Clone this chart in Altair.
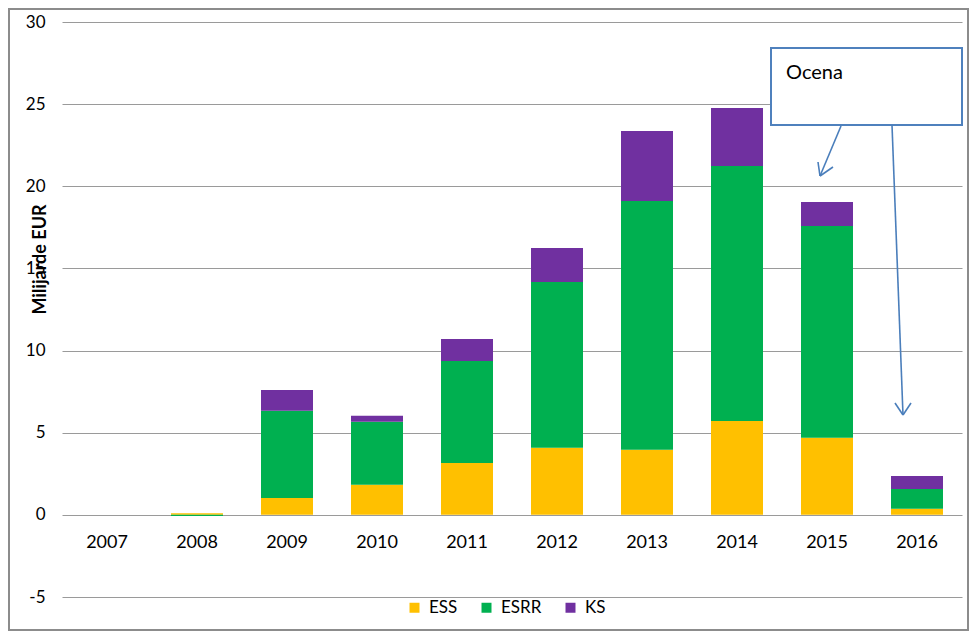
import altair as alt
import pandas as pd

years = ["2007", "2008", "2009", "2010", "2011", "2012", "2013", "2014", "2015", "2016"]
ess = [0.0, 0.10, 1.03, 1.83, 3.16, 4.08, 3.96, 5.72, 4.69, 0.37]
esrr = [0.0, -0.07, 5.30, 3.83, 6.21, 10.10, 15.14, 15.52, 12.90, 1.21]
ks = [0.0, 0.0, 1.27, 0.37, 1.34, 2.07, 4.27, 3.53, 1.46, 0.79]
series = ["ESS", "ESRR", "KS"]
colors = ["#FFC000", "#00B050", "#7030A0"]
y_ticks = [-5, 0, 5, 10, 15, 20, 25, 30]
annotation_text = "Ocena"
y_title = "Milijarde EUR"

FONT = "Lato"

rows = []
for i, y in enumerate(years):
    for k, (name, vals) in enumerate(zip(series, [ess, esrr, ks])):
        rows.append({"year": y, "series": name, "value": vals[i], "ord": k})
df = pd.DataFrame(rows)
lab_df = pd.DataFrame({"year": years, "zero": [0] * len(years)})

x_enc = alt.X("year:N", sort=years, axis=None,
              scale=alt.Scale(paddingInner=0.42, paddingOuter=0.21))

bars = alt.Chart(df).mark_bar(size=52).encode(
    x=x_enc,
    y=alt.Y("value:Q", stack="zero",
            scale=alt.Scale(domain=[-5, 30], nice=False, zero=False),
            axis=alt.Axis(values=y_ticks, grid=True, gridColor="#9a9a9a", gridWidth=1,
                          domain=False, ticks=False, labelPadding=17,
                          labelExpr="'' + datum.value",
                          labelFontSize=17, labelFont=FONT, labelColor="#000000",
                          title=y_title, titleFont=FONT, titleFontSize=18,
                          titleFontWeight="bold", titleColor="#000000",
                          titleAngle=270, titleX=-22, titleY=237,
                          titleAlign="center", titleBaseline="middle")),
    color=alt.Color("series:N", scale=alt.Scale(domain=series, range=colors),
                    legend=alt.Legend(title=None, orient="none", direction="horizontal",
                                      legendX=344, legendY=577, symbolType="square",
                                      symbolSize=100, symbolStrokeWidth=0,
                                      labelFont=FONT, labelFontSize=17,
                                      labelColor="#000000", labelOffset=6,
                                      columnPadding=20, padding=0)),
    order=alt.Order("ord:Q", sort="ascending"),
)

labels = alt.Chart(lab_df).mark_text(dy=28, fontSize=18, font=FONT, color="#000000").encode(
    x=x_enc,
    y=alt.Y("zero:Q"),
    text="year:N",
)

# callout box (annotation, pixel positions)
box_df = pd.DataFrame({"x": [709], "x2": [900], "y": [26], "y2": [103]})
box = alt.Chart(box_df).mark_rect(fill="white", stroke="#4f81bd", strokeWidth=2).encode(
    x=alt.X("x:Q", scale=None), x2="x2:Q",
    y=alt.Y("y:Q", scale=None), y2="y2:Q",
)
box_text = alt.Chart(pd.DataFrame({"x": [724], "y": [51], "t": [annotation_text]})).mark_text(
    align="left", baseline="middle", fontSize=20, font=FONT, color="#000000"
).encode(x=alt.X("x:Q", scale=None), y=alt.Y("y:Q", scale=None), text="t:N")

seg_df = pd.DataFrame({
    "x": [779, 758, 758, 830, 841, 841],
    "y": [104, 154, 154, 103, 393, 393],
    "x2": [758, 756, 771, 841, 833, 849],
    "y2": [154, 140, 145, 393, 381, 381],
})
arrows = alt.Chart(seg_df).mark_rule(color="#4a7ebb", strokeWidth=1.6).encode(
    x=alt.X("x:Q", scale=None), x2="x2:Q",
    y=alt.Y("y:Q", scale=None), y2="y2:Q",
)

frame_df = pd.DataFrame({"x": [-53], "x2": [906], "y": [-13], "y2": [608]})
frame = alt.Chart(frame_df).mark_rect(fill=None, stroke="#8c8c8c", strokeWidth=2).encode(
    x=alt.X("x:Q", scale=None), x2="x2:Q",
    y=alt.Y("y:Q", scale=None), y2="y2:Q",
)

chart = alt.layer(frame, bars, labels, box, box_text, arrows).resolve_scale(
    x="shared"
).properties(
    width=900, height=575,
    autosize=alt.AutoSizeParams(type="none"),
    padding={"left": 54, "top": 14, "right": 7, "bottom": 34},
).configure_view(stroke=None)

chart.save("out.html", embed_options={"renderer": "svg", "actions": False})
